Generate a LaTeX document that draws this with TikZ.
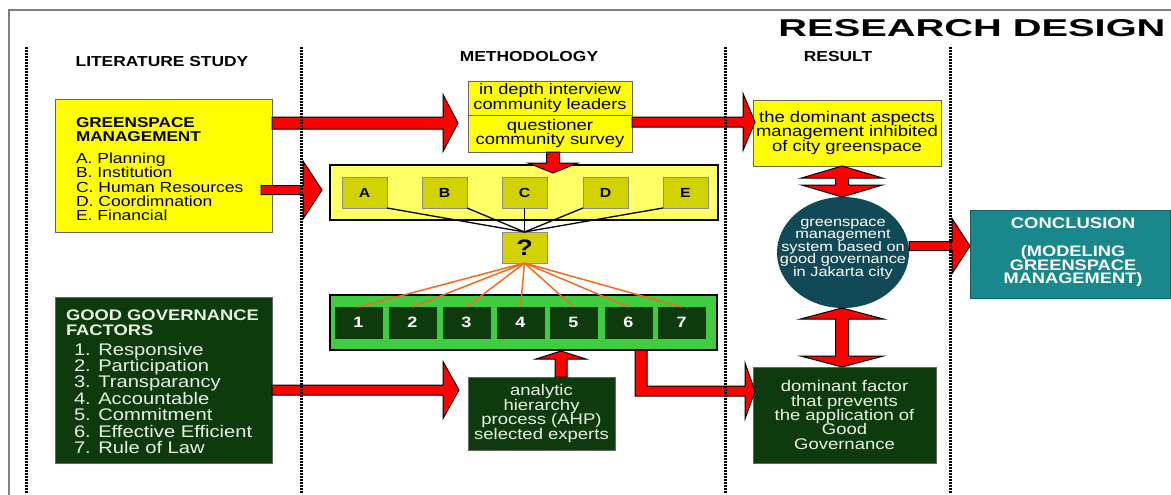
\documentclass[tikz,border=0pt]{standalone}
\usepackage{fontspec}
\setmainfont{Liberation Sans}[FakeStretch=1.2]
\usepackage{graphicx}
\usetikzlibrary{calc,shapes.geometric}
\definecolor{ylw}{HTML}{FFFF00}
\definecolor{lylw}{HTML}{FFFF66}
\definecolor{dylw}{HTML}{D2D200}
\definecolor{grn}{HTML}{3FCC3F}
\definecolor{dkg}{HTML}{0E3B0E}
\definecolor{tealA}{HTML}{114A56}
\definecolor{tealB}{HTML}{18888C}
\definecolor{orng}{HTML}{F56A1E}
\definecolor{txtg}{HTML}{E8F2E4}
\newcommand\fs[2]{\fontsize{#1}{#2}\selectfont\lineskiplimit=0pt\lineskip=0pt\relax}
% horizontal fat arrow: start, tip, shaft half, head half, head length
\newcommand\fatright[5]{\draw[fat] let \p1=(#1), \p2=(#2) in
  (\x1,\y1+#3) -- (\x2-#5,\y1+#3) -- (\x2-#5,\y1+#4) -- (\x2,\y1) -- (\x2-#5,\y1-#4) -- (\x2-#5,\y1-#3) -- (\x1,\y1-#3) -- cycle;}
% vertical double fat arrow: top tip, bottom tip, shaft half, head half, head length
\newcommand\fatboth[5]{\draw[fat] let \p1=(#1), \p2=(#2) in
  (\x1,\y1) -- (\x1+#4,\y1-#5) -- (\x1+#3,\y1-#5) -- (\x1+#3,\y2+#5) -- (\x1+#4,\y2+#5) -- (\x1,\y2) -- (\x1-#4,\y2+#5) -- (\x1-#3,\y2+#5) -- (\x1-#3,\y1-#5) -- (\x1-#4,\y1-#5) -- cycle;}
\newcommand\fatdown[5]{\draw[fat] let \p1=(#1), \p2=(#2) in
  (\x1-#3,\y1) -- (\x1-#3,\y2+#5) -- (\x1-#4,\y2+#5) -- (\x1,\y2) -- (\x1+#4,\y2+#5) -- (\x1+#3,\y2+#5) -- (\x1+#3,\y1) -- cycle;}
\newcommand\fatup[5]{\draw[fat] let \p1=(#1), \p2=(#2) in
  (\x1-#3,\y1) -- (\x1-#3,\y2-#5) -- (\x1-#4,\y2-#5) -- (\x1,\y2) -- (\x1+#4,\y2-#5) -- (\x1+#3,\y2-#5) -- (\x1+#3,\y1) -- cycle;}
\begin{document}
\begin{tikzpicture}[x=1pt,y=-1pt,
  every node/.style={inner sep=0pt, outer sep=0pt},
  box/.style={draw=black!60, line width=0.8pt, anchor=north west},
  fat/.style={fill=red, draw=black, line width=1pt, line join=miter},
  lbox/.style={anchor=north west, fill=dylw, draw=black!45, line width=0.8pt, minimum width=45pt, minimum height=31pt, font=\fs{13.2}{14}\bfseries},
  nbox/.style={anchor=north west, fill=dkg, draw=dkg, minimum width=47pt, minimum height=31pt, font=\fs{15}{16}\bfseries, text=white},
  hdr/.style={font=\fs{14.5}{18}\bfseries},
  dotline/.style={line width=3pt, dash pattern=on 1.6pt off 1.4pt, black},
  tline/.style={black, line width=1.3pt},
  oline/.style={orng, line width=1.5pt}]
\useasboundingbox (0,0) rectangle (1171,495);
\fill[white] (0,0) rectangle (1171,495);
\draw[black!50, line width=1.3pt] (9,495) -- (9,10) -- (1171,10);

% titles
\node (title) at (972,28.5) {\resizebox{387pt}{17pt}{\bfseries RESEARCH DESIGN}};
\node[hdr] (h1) at (162,62) {LITERATURE STUDY};
\node[hdr] (h2) at (529,57) {METHODOLOGY};
\node[hdr] (h3) at (838,57) {RESULT};

% literature boxes
\node[box, fill=ylw, minimum width=217pt, minimum height=133pt] (gm) at (55,99) {};
\node[anchor=north west, align=left, font=\fs{14.3}{14}\bfseries] (gmh) at (76,118) {GREENSPACE\\MANAGEMENT};
\node[anchor=north west, align=left, font=\fs{14.6}{14.3}] (gml) at (76,153) {A. Planning\\B. Institution\\C. Human Resources\\D. Coordimnation\\E. Financial};

\node[box, fill=dkg, minimum width=217pt, minimum height=166pt] (gg) at (55,297) {};
\node[anchor=north west, align=left, font=\fs{15.3}{15}\bfseries, text=txtg] (ggh) at (66,310) {GOOD GOVERNANCE\\FACTORS};
\node[anchor=north west, align=left, font=\fs{16.8}{16.4}, text=txtg] (ggl) at (74,343) {1. Responsive\\2. Participation\\3. Transparancy\\4. Accountable\\5. Commitment\\6. Effective Efficient\\7. Rule of Law};

% methodology
\node[box, fill=ylw, minimum width=164pt, minimum height=34pt, align=center, font=\fs{15.2}{12.5}] (tb1) at (468,81) {in depth interview\\community leaders};
\node[box, fill=ylw, minimum width=164pt, minimum height=37pt, align=center, font=\fs{15.4}{14}] (tb2) at (468,115) {questioner\\community survey};

\node[anchor=north west, fill=lylw, draw=black, line width=2.5pt, minimum width=388pt, minimum height=55pt] (abc) at (330,165) {};
\node[lbox] (A) at (342,177) {A};
\node[lbox] (B) at (422,177) {B};
\node[lbox] (C) at (502,177) {C};
\node[lbox] (D) at (583,177) {D};
\node[lbox] (E) at (663,177) {E};
\node[lbox, font=\fs{22.5}{24}\bfseries] (q) at (502,232) {?};
\draw[tline] (A.south east) -- (q.north);
\draw[tline] (B.south east) -- (q.north);
\draw[tline] (C.south) -- (q.north);
\draw[tline] (D.south west) -- (q.north);
\draw[tline] (E.south west) -- (q.north);

\node[anchor=north west, fill=grn, draw=black, line width=2.5pt, minimum width=387pt, minimum height=55pt] (grn) at (330,295) {};
\node[nbox] (n1) at (335,307) {1};
\node[nbox] (n2) at (389,307) {2};
\node[nbox] (n3) at (443,307) {3};
\node[nbox] (n4) at (497,307) {4};
\node[nbox] (n5) at (550,307) {5};
\node[nbox] (n6) at (605,307) {6};
\node[nbox] (n7) at (658,307) {7};
\foreach \i in {1,...,7} {\draw[oline] (q.south) -- (n\i.north);}

\node[box, fill=dkg, text=txtg, minimum width=147pt, minimum height=73pt, align=center, font=\fs{15.4}{14}] (ahp) at (468,377) {analytic\\hierarchy\\process (AHP)\\selected experts};

% result
\node[box, fill=ylw, minimum width=188pt, minimum height=66pt, align=center, font=\fs{15.4}{13.5}] (res) at (753,100) {the dominant aspects\\management inhibited\\of city greenspace};
\node[ellipse, fill=tealA, minimum width=132pt, minimum height=111pt] (circ) at (843,252.5) {};
\node[align=center, font=\fs{13.6}{12.3}, text=white] (circt) at (843,249) {greenspace\\management\\system based on\\good governance\\in Jakarta city};
\node[box, fill=dkg, text=txtg, minimum width=183pt, minimum height=96pt, align=center, font=\fs{15.4}{14.2}] (dom) at (753,367) {dominant factor\\that prevents\\the application of\\Good\\Governance};

% conclusion
\node[box, fill=tealB, draw=tealB!70!black, minimum width=200pt, minimum height=88pt] (conc) at (970,210) {};
\node[font=\fs{15.4}{12}\bfseries, text=white] (c1) at (1073,223) {CONCLUSION};
\node[align=center, font=\fs{15.2}{13.5}\bfseries, text=white] (c2) at (1073,266) {(MODELING\\GREENSPACE\\MANAGEMENT)};

% fat arrows
\fatright{gm.east |- 0,123}{$(tb1.west)+(-10,0)$}{6pt}{28.5pt}{15pt}
\fatright{$(gm.east |- 0,190)+(-11,0)$}{$(abc.west)+(-8,0)$}{4.5pt}{29pt}{19pt}
\fatright{tb2.east |- 0,122}{$(res.west)+(2,0)$}{5pt}{28.5pt}{12pt}
\fatright{gg.east |- 0,390}{$(ahp.west)+(-9,0)$}{5pt}{28.5pt}{16pt}
\fatright{circ.east |- 0,246}{conc.west |- 0,246}{4.5pt}{27.5pt}{18pt}
\fatdown{tb2.south -| 553,0}{$(abc.north -| 553,0)+(0,8)$}{6.5pt}{25pt}{10pt}
\fatup{ahp.north -| 561,0}{$(grn.south -| 561,0)+(0,1)$}{6pt}{25pt}{8pt}
\fatboth{res.south -| 842,0}{circ.north -| 842,0}{6.5pt}{40.5pt}{12pt}
\fatboth{circ.south -| 842,0}{dom.north -| 842,0}{6.5pt}{41.5pt}{11pt}
\draw[fat] let \p1=(grn.south -| 641,0), \p2=(dom.west |- 0,391) in
  (\x1-6pt,\y1) -- (\x1+6pt,\y1) -- (\x1+6pt,\y2+5pt) -- (\x2-8pt,\y2+5pt) -- (\x2-8pt,\y2+28pt) -- (\x2+2pt,\y2) -- (\x2-8pt,\y2-28pt) -- (\x2-8pt,\y2-5pt) -- (\x1-6pt,\y2-5pt) -- cycle;

% dotted separators
\draw[dotline] (26,47) -- (26,493);
\draw[dotline] (301,47) -- (301,493);
\draw[dotline] (725,47) -- (725,493);
\draw[dotline] (950,47) -- (950,493);
\end{tikzpicture}
\end{document}
